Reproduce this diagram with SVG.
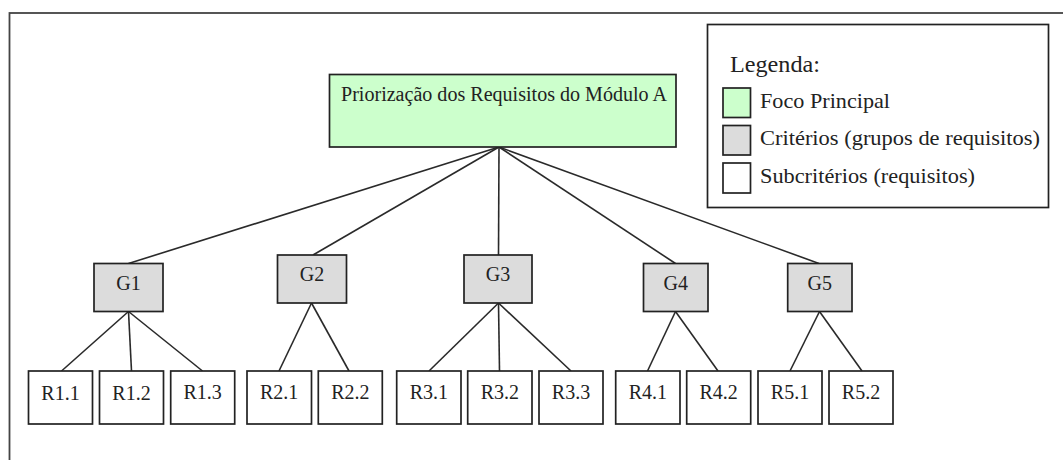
<svg xmlns="http://www.w3.org/2000/svg" width="1063" height="460" viewBox="0 0 1063 460">
<style>
.box{stroke:#222;stroke-width:1.7}
.main{fill:#ccffcc}
.crit{fill:#dcdcdc}
.sub{fill:#fff}
.t{font-family:"Liberation Serif","Times New Roman",serif;fill:#222}
.c{text-anchor:middle;font-size:20px}
.conn line{stroke:#2a2a2a;stroke-width:1.6}
</style>
<rect x="0" y="0" width="1063" height="460" fill="#fff"/>
<rect x="9.5" y="13" width="1070" height="470" fill="none" stroke="#444" stroke-width="1.8"/>
<g id="connectors" class="conn">
<line x1="499" y1="147" x2="128.5" y2="263.5"/>
<line x1="499" y1="147" x2="313" y2="255"/>
<line x1="499" y1="147" x2="498.5" y2="255"/>
<line x1="499" y1="147" x2="675.5" y2="263.5"/>
<line x1="499" y1="147" x2="819" y2="263.5"/>
<line x1="128.5" y1="311.5" x2="61.5" y2="371"/>
<line x1="128.5" y1="311.5" x2="131.5" y2="371"/>
<line x1="128.5" y1="311.5" x2="202.5" y2="371"/>
<line x1="311.5" y1="303" x2="279" y2="371"/>
<line x1="311.5" y1="303" x2="349" y2="371"/>
<line x1="498.5" y1="303" x2="429" y2="371"/>
<line x1="498.5" y1="303" x2="499.5" y2="371"/>
<line x1="498.5" y1="303" x2="571" y2="371"/>
<line x1="675.5" y1="311.5" x2="647.5" y2="371"/>
<line x1="675.5" y1="311.5" x2="718" y2="371"/>
<line x1="819.5" y1="311.5" x2="790" y2="371"/>
<line x1="819.5" y1="311.5" x2="862" y2="371"/>
</g>
<g id="main">
<rect class="box main" x="329.5" y="74.5" width="346.5" height="72.5"/>
<text class="t" x="341" y="100.5" font-size="20" textLength="326" lengthAdjust="spacingAndGlyphs">Priorização dos Requisitos do Módulo A</text>
</g>
<g id="legend">
<rect x="707.5" y="24.5" width="341" height="183" fill="#fff" stroke="#222" stroke-width="1.7"/>
<text class="t" x="730" y="72" font-size="23" textLength="90" lengthAdjust="spacingAndGlyphs">Legenda:</text>
<rect class="box main" x="723" y="88" width="27.5" height="29.5"/>
<text class="t" x="760" y="107.5" font-size="22" textLength="130" lengthAdjust="spacingAndGlyphs">Foco Principal</text>
<rect class="box crit" x="723" y="125.5" width="27.5" height="29.5"/>
<text class="t" x="760" y="145" font-size="22" textLength="280" lengthAdjust="spacingAndGlyphs">Critérios (grupos de requisitos)</text>
<rect class="box sub" x="723" y="163" width="27.5" height="30"/>
<text class="t" x="760" y="183" font-size="22" textLength="215" lengthAdjust="spacingAndGlyphs">Subcritérios (requisitos)</text>
</g>
<g id="G1"><rect class="box crit" x="94" y="263.5" width="69" height="48"/><text class="t c" x="128.5" y="289.5">G1</text></g>
<g id="G2"><rect class="box crit" x="277.5" y="255" width="69" height="48"/><text class="t c" x="312" y="281">G2</text></g>
<g id="G3"><rect class="box crit" x="464" y="255" width="68" height="48"/><text class="t c" x="498" y="281">G3</text></g>
<g id="G4"><rect class="box crit" x="643.5" y="263.5" width="64.5" height="48"/><text class="t c" x="675.7" y="289.5">G4</text></g>
<g id="G5"><rect class="box crit" x="787.7" y="263.5" width="64.3" height="48"/><text class="t c" x="819.8" y="289.5">G5</text></g>
<g id="R1.1"><rect class="box sub" x="28.5" y="371" width="64" height="53"/><text class="t c" x="60.5" y="400">R1.1</text></g>
<g id="R1.2"><rect class="box sub" x="99.5" y="371" width="64" height="53"/><text class="t c" x="131.5" y="400">R1.2</text></g>
<g id="R1.3"><rect class="box sub" x="170.7" y="371" width="64" height="53"/><text class="t c" x="202.7" y="398.5">R1.3</text></g>
<g id="R2.1"><rect class="box sub" x="247" y="371" width="64.5" height="53"/><text class="t c" x="279.2" y="398.5">R2.1</text></g>
<g id="R2.2"><rect class="box sub" x="318.3" y="371" width="64" height="53"/><text class="t c" x="350.3" y="398.5">R2.2</text></g>
<g id="R3.1"><rect class="box sub" x="396.7" y="371" width="64.3" height="53"/><text class="t c" x="428.8" y="398.5">R3.1</text></g>
<g id="R3.2"><rect class="box sub" x="467.7" y="371" width="64.3" height="53"/><text class="t c" x="499.8" y="398.5">R3.2</text></g>
<g id="R3.3"><rect class="box sub" x="539" y="371" width="64" height="53"/><text class="t c" x="571" y="398.5">R3.3</text></g>
<g id="R4.1"><rect class="box sub" x="615.7" y="371" width="64.3" height="53"/><text class="t c" x="647.8" y="398.5">R4.1</text></g>
<g id="R4.2"><rect class="box sub" x="686.7" y="371" width="64" height="53"/><text class="t c" x="718.7" y="398.5">R4.2</text></g>
<g id="R5.1"><rect class="box sub" x="758" y="371" width="64" height="53"/><text class="t c" x="790" y="398.5">R5.1</text></g>
<g id="R5.2"><rect class="box sub" x="829" y="371" width="64" height="53"/><text class="t c" x="861" y="398.5">R5.2</text></g>
</svg>
